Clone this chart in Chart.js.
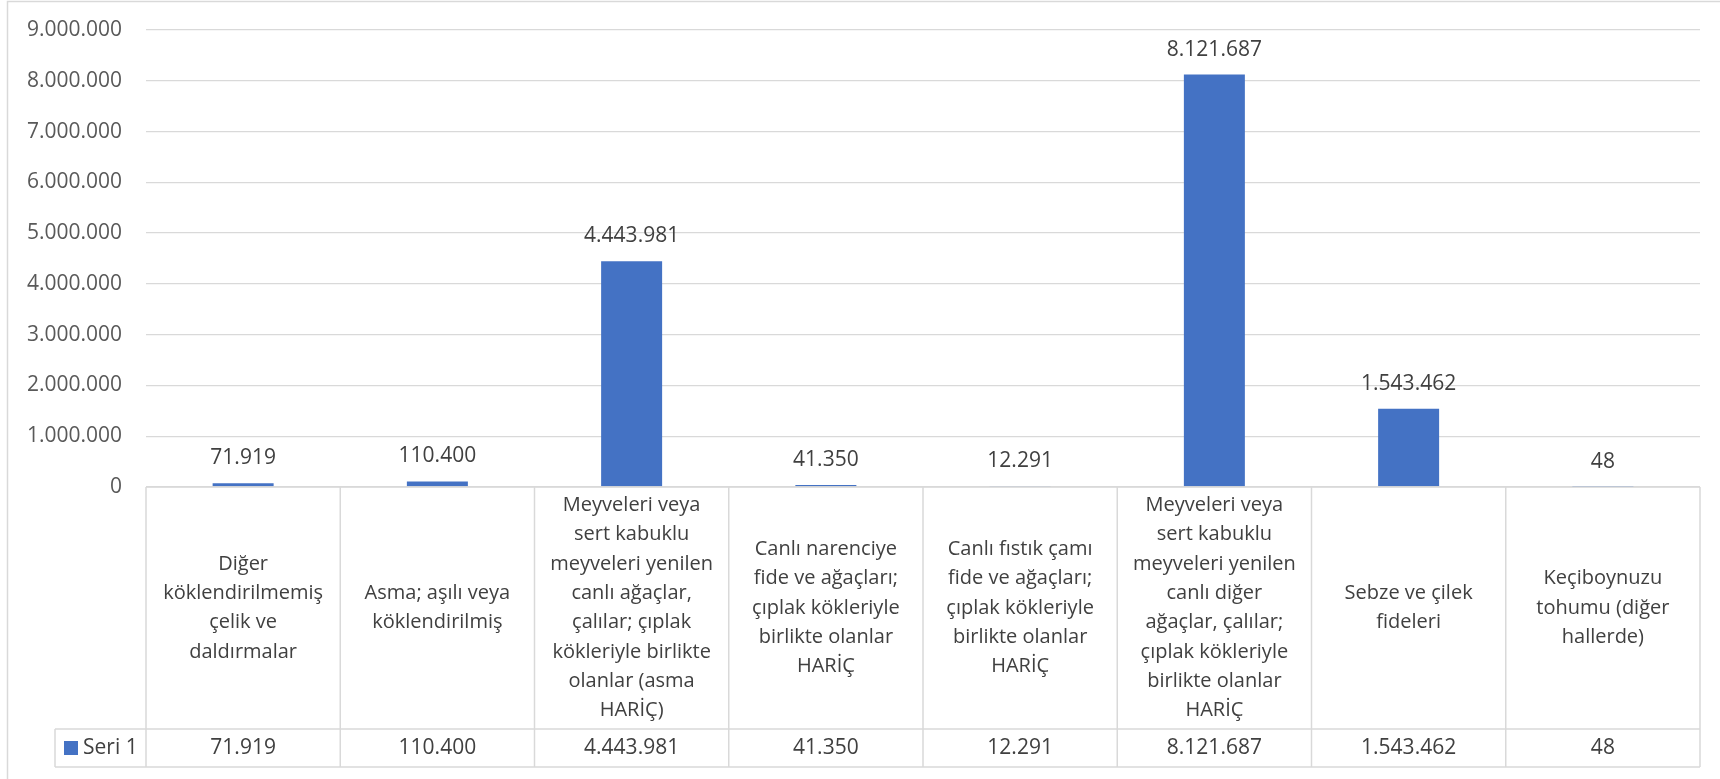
<!DOCTYPE html>
<html>
<head>
<meta charset="utf-8">
<script src="https://cdn.jsdelivr.net/npm/chart.js@4.4.0/dist/chart.umd.min.js"></script>
<style>
  body { margin: 0; background: #fff; }
  canvas { display: block; }
</style>
</head>
<body>
<canvas id="grafik" width="1720" height="779"></canvas>
<script>
// kategoriler (tablodaki satır kırılımlarıyla)
const kategoriler = [
    ['Diğer', 'köklendirilmemiş', 'çelik ve', 'daldırmalar'],
    ['Asma; aşılı veya', 'köklendirilmiş'],
    ['Meyveleri veya', 'sert kabuklu', 'meyveleri yenilen', 'canlı ağaçlar,', 'çalılar; çıplak', 'kökleriyle birlikte', 'olanlar (asma', 'HARİÇ)'],
    ['Canlı narenciye', 'fide ve ağaçları;', 'çıplak kökleriyle', 'birlikte olanlar', 'HARİÇ'],
    ['Canlı fıstık çamı', 'fide ve ağaçları;', 'çıplak kökleriyle', 'birlikte olanlar', 'HARİÇ'],
    ['Meyveleri veya', 'sert kabuklu', 'meyveleri yenilen', 'canlı diğer', 'ağaçlar, çalılar;', 'çıplak kökleriyle', 'birlikte olanlar', 'HARİÇ'],
    ['Sebze ve çilek', 'fideleri'],
    ['Keçiboynuzu', 'tohumu (diğer', 'hallerde)']
];
const seriAdi = 'Seri 1';
const seriDegerleri = [71919, 110400, 4443981, 41350, 12291, 8121687, 1543462, 48];
const eksenMin = 0;
const eksenMax = 9000000;
const eksenAdim = 1000000;

const FONT = '"Open Sans", "Noto Sans", sans-serif';
const MAVI = '#4472C4';
const CIZGI = '#D9D9D9';

function sayiFormat(v) {
    return String(Math.round(v)).replace(/\B(?=(\d{3})+(?!\d))/g, '.');
}

const tabloEklentisi = {
    id: 'tablo',
    afterDraw(chart) {
        const ctx = chart.ctx;
        const x = chart.scales.x;
        const area = chart.chartArea;
        const n = kategoriler.length;
        const adim = (area.right - area.left) / n;
        const ust = area.bottom;
        const ortaCizgi = 729;
        const alt = 767;
        const seriSol = 55;

        ctx.save();
        // dış çerçeve
        ctx.strokeStyle = CIZGI;
        ctx.lineWidth = 1.5;
        ctx.strokeRect(7.5, 1.5, 1740, 800);

        // veri etiketleri
        const meta = chart.getDatasetMeta(0);
        ctx.fillStyle = '#404040';
        ctx.font = '21px ' + FONT;
        ctx.textAlign = 'center';
        ctx.textBaseline = 'middle';
        meta.data.forEach((bar, i) => {
            ctx.fillText(sayiFormat(seriDegerleri[i]), bar.x, bar.y - 25);
        });

        // tablo çizgileri
        ctx.strokeStyle = CIZGI;
        ctx.lineWidth = 1.5;
        ctx.beginPath();
        ctx.moveTo(area.left, ust); ctx.lineTo(area.right, ust);
        ctx.moveTo(seriSol, ortaCizgi); ctx.lineTo(area.right, ortaCizgi);
        ctx.moveTo(seriSol, alt); ctx.lineTo(area.right, alt);
        ctx.moveTo(seriSol, ortaCizgi); ctx.lineTo(seriSol, alt);
        for (let i = 0; i <= n; i++) {
            const cx = area.left + i * adim;
            ctx.moveTo(cx, ust); ctx.lineTo(cx, alt);
        }
        ctx.stroke();

        // kategori metinleri
        ctx.fillStyle = '#404040';
        ctx.font = '20px ' + FONT;
        const satirYuk = 29.3;
        const ortaY = (ust + ortaCizgi) / 2;
        kategoriler.forEach((satirlar, i) => {
            const cx = x.getPixelForValue(i);
            const bas = ortaY - (satirlar.length - 1) * satirYuk / 2;
            satirlar.forEach((s, j) => ctx.fillText(s, cx, bas + j * satirYuk));
        });

        // seri satırı
        const satirY = (ortaCizgi + alt) / 2;
        ctx.font = '21px ' + FONT;
        seriDegerleri.forEach((v, i) => {
            ctx.fillText(sayiFormat(v), x.getPixelForValue(i), satirY);
        });
        ctx.fillStyle = MAVI;
        ctx.fillRect(64, satirY - 7, 14, 14);
        ctx.fillStyle = '#404040';
        ctx.textAlign = 'left';
        ctx.fillText(seriAdi, 83, satirY);
        ctx.restore();
    }
};

new Chart(document.getElementById('grafik').getContext('2d'), {
    type: 'bar',
    data: {
        labels: kategoriler.map(k => k.join(' ')),
        datasets: [{
            label: seriAdi,
            data: seriDegerleri,
            backgroundColor: MAVI,
            borderWidth: 0,
            barPercentage: 0.314,
            categoryPercentage: 1
        }]
    },
    options: {
        responsive: false,
        animation: false,
        devicePixelRatio: 1,
        layout: { padding: { left: 0, right: 20, top: 30, bottom: 292 } },
        scales: {
            x: { display: false },
            y: {
                min: eksenMin,
                max: eksenMax,
                afterFit(scale) { scale.width = 146; scale.paddingTop = 0; scale.paddingBottom = 0; },
                grid: { color: CIZGI, lineWidth: 1.3, drawTicks: false },
                border: { display: false },
                ticks: {
                    stepSize: eksenAdim,
                    padding: 24,
                    color: '#595959',
                    font: { family: FONT, size: 21 },
                    callback: v => sayiFormat(v)
                }
            }
        },
        plugins: {
            legend: { display: false },
            tooltip: { enabled: false }
        }
    },
    plugins: [tabloEklentisi]
});
</script>
</body>
</html>
